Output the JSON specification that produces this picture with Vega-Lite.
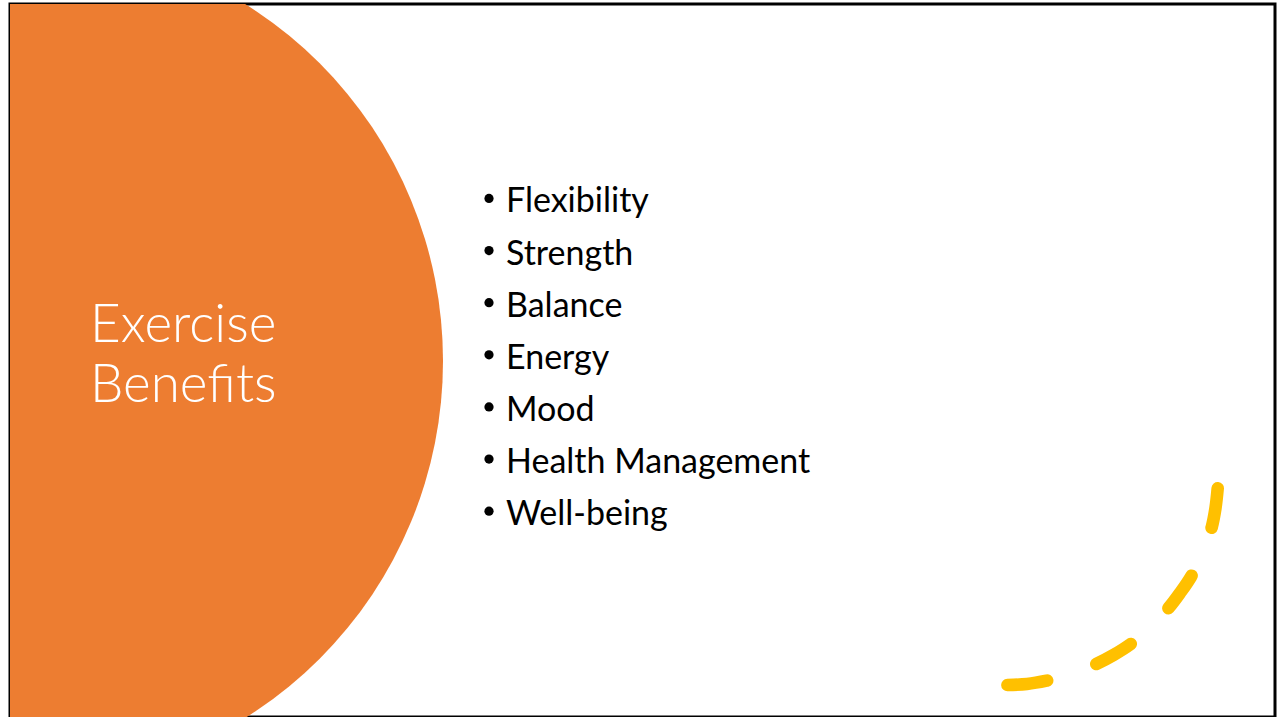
{
  "$schema": "https://vega.github.io/schema/vega-lite/v6.json",
  "width": 1278,
  "height": 717,
  "autosize": {"type": "fit", "contains": "padding"},
  "padding": {"left": 10, "top": 4, "right": 3, "bottom": 0},
  "background": "white",
  "config": {"view": {"stroke": "#000000", "strokeWidth": 3}},
  "datasets": {
    "shapes": [{"shape": "circle", "x": 22, "y": 361}],
    "title": [{"title": "Exercise Benefits", "x": 90, "y": 341.7}],
    "items": [
      {"item": "Flexibility", "rank": 1},
      {"item": "Strength", "rank": 2},
      {"item": "Balance", "rank": 3},
      {"item": "Energy", "rank": 4},
      {"item": "Mood", "rank": 5},
      {"item": "Health Management", "rank": 6},
      {"item": "Well-being", "rank": 7}
    ],
    "arc": [
      {"seq": 1, "x": 1217.7, "y": 488.3},
      {"seq": 2, "x": 1215.5, "y": 508},
      {"seq": 3, "x": 1211.7, "y": 527.3},
      {"seq": 4, "x": 1203, "y": 553},
      {"seq": 5, "x": 1191, "y": 576.7},
      {"seq": 6, "x": 1180, "y": 593},
      {"seq": 7, "x": 1168.3, "y": 608.3},
      {"seq": 8, "x": 1150, "y": 627.5},
      {"seq": 9, "x": 1130.7, "y": 644},
      {"seq": 10, "x": 1113.5, "y": 655},
      {"seq": 11, "x": 1095.7, "y": 664.3},
      {"seq": 12, "x": 1072, "y": 674.5},
      {"seq": 13, "x": 1046.7, "y": 680.7},
      {"seq": 14, "x": 1027, "y": 684},
      {"seq": 15, "x": 1006.7, "y": 685}
    ]
  },
  "layer": [
    {
      "data": {"name": "shapes"},
      "mark": {"type": "point", "shape": "circle", "filled": true, "color": "#ED7D31", "opacity": 1, "size": 708964, "clip": true},
      "encoding": {
        "x": {"field": "x", "type": "quantitative", "scale": {"domain": [10, 1275], "nice": false, "zero": false}, "axis": null},
        "y": {"field": "y", "type": "quantitative", "scale": {"domain": [4, 717], "reverse": true, "nice": false, "zero": false}, "axis": null}
      }
    },
    {
      "data": {"name": "title"},
      "mark": {"type": "text", "align": "left", "baseline": "alphabetic", "font": "Lato", "fontWeight": 300, "fontSize": 53, "lineBreak": " ", "lineHeight": 60, "color": "#FFFFFF"},
      "encoding": {
        "x": {"field": "x", "type": "quantitative", "scale": {"domain": [10, 1275], "nice": false, "zero": false}, "axis": null},
        "y": {"field": "y", "type": "quantitative", "scale": {"domain": [4, 717], "reverse": true, "nice": false, "zero": false}, "axis": null},
        "text": {"field": "title"}
      }
    },
    {
      "data": {"name": "items"},
      "mark": {"type": "circle", "size": 85, "color": "#000000", "opacity": 1, "yOffset": -14},
      "encoding": {
        "x": {"datum": 489, "type": "quantitative", "scale": {"domain": [10, 1275], "nice": false, "zero": false}, "axis": null},
        "y": {"field": "rank", "type": "quantitative", "scale": {"domain": [-3, 10.68], "reverse": true, "nice": false, "zero": false}, "axis": null}
      }
    },
    {
      "data": {"name": "items"},
      "mark": {"type": "text", "align": "left", "baseline": "alphabetic", "font": "Lato", "fontSize": 34, "color": "#000000"},
      "encoding": {
        "x": {"datum": 506, "type": "quantitative", "scale": {"domain": [10, 1275], "nice": false, "zero": false}, "axis": null},
        "y": {"field": "rank", "type": "quantitative", "scale": {"domain": [-3, 10.68], "reverse": true, "nice": false, "zero": false}, "axis": null},
        "text": {"field": "item"}
      }
    },
    {
      "data": {"name": "arc"},
      "mark": {"type": "line", "interpolate": "catmull-rom", "color": "#FFC000", "strokeWidth": 12.6, "strokeCap": "round", "strokeDash": [40, 52]},
      "encoding": {
        "x": {"field": "x", "type": "quantitative", "scale": {"domain": [10, 1275], "nice": false, "zero": false}, "axis": null},
        "y": {"field": "y", "type": "quantitative", "scale": {"domain": [4, 717], "reverse": true, "nice": false, "zero": false}, "axis": null},
        "order": {"field": "seq", "type": "quantitative"}
      }
    }
  ],
  "resolve": {"scale": {"y": "independent"}}
}
